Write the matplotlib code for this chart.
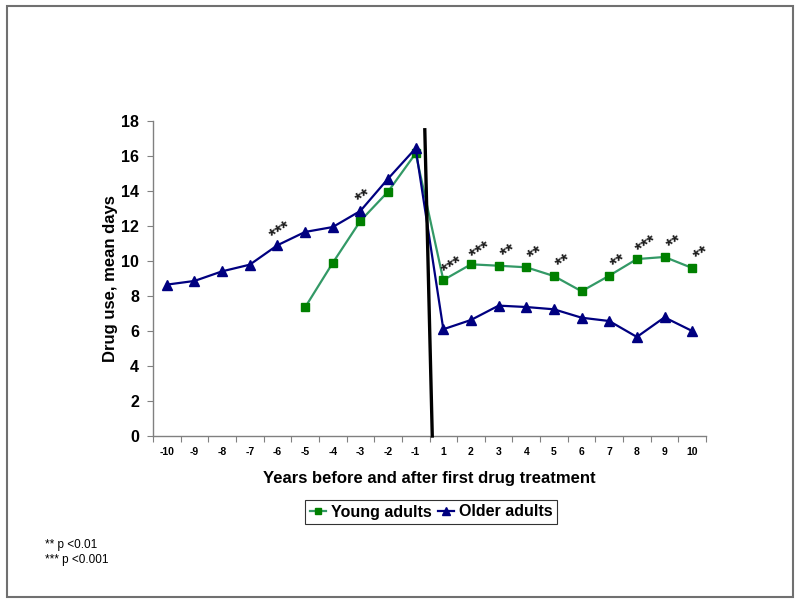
import matplotlib
matplotlib.use("Agg")
import matplotlib.pyplot as plt
from matplotlib.patches import Rectangle
from matplotlib.lines import Line2D

plt.rcParams['font.family'] = ['Liberation Sans', 'DejaVu Sans']

years = ['-10', '-9', '-8', '-7', '-6', '-5', '-4', '-3', '-2', '-1',
         '1', '2', '3', '4', '5', '6', '7', '8', '9', '10']
older = [8.65, 8.86, 9.41, 9.79, 10.9, 11.66, 11.94, 12.86, 14.7, 16.44,
         6.1, 6.63, 7.45, 7.37, 7.24, 6.76, 6.57, 5.66, 6.78, 6.0]
young_years = ['-5', '-4', '-3', '-2', '-1', '1', '2', '3', '4', '5', '6', '7', '8', '9', '10']
young = [7.35, 9.89, 12.29, 13.96, 16.15, 8.91, 9.81, 9.73, 9.64, 9.14, 8.27, 9.16, 10.11, 10.23, 9.6]

older_sig = {'-6': '***', '-3': '**'}
young_sig = {'1': '***', '2': '***', '3': '**', '4': '**', '5': '**', '7': '**',
             '8': '***', '9': '**', '10': '**'}

treat_line_x = [9.33, 9.6]
treat_line_y = [17.5, 0]

fig = plt.figure(figsize=(8, 6.04), dpi=100)
ax = fig.add_axes([153/800, 1-436/604, 553/800, 315/604])

xi = {y: i for i, y in enumerate(years)}
ox = [xi[y] for y in years]
yx = [xi[y] for y in young_years]

green_line = '#339966'
green_mk = '#008000'
navy = '#000080'

ax.plot(yx, young, color=green_line, lw=1.6, marker='s', ms=6,
        mfc=green_mk, mec=green_mk, zorder=3)
ax.plot(ox, older, color=navy, lw=1.6, marker='^', ms=6.5,
        mfc=navy, mec=navy, zorder=4)

ax.plot(treat_line_x, treat_line_y, color='black', lw=2.4, zorder=5, clip_on=False)

star_font = dict(family='Liberation Sans', fontsize=13, fontweight='bold', color='#1a1a1a')
for k, s in older_sig.items():
    i = xi[k]
    ax.annotate(s, (i, older[i]), xytext=(2.5, 9.5), textcoords='offset points',
                ha='center', va='center', rotation=33, rotation_mode='anchor', **star_font)
for k, s in young_sig.items():
    j = young_years.index(k)
    ax.annotate(s, (xi[k], young[j]), xytext=(7, 9.5), textcoords='offset points',
                ha='center', va='center', rotation=33, rotation_mode='anchor', **star_font)

ax.set_xlim(-0.5, 19.5)
ax.set_ylim(0, 18)
ax.set_yticks(range(0, 19, 2))
ax.set_yticklabels([str(v) for v in range(0, 19, 2)], fontweight='bold', fontsize=11.5)
ax.set_xticks([i - 0.5 for i in range(21)])
ax.set_xticklabels([])
ax.set_xticks(range(20), minor=True)
ax.set_xticklabels(years, minor=True, fontweight='bold', fontsize=7.5)
ax.tick_params(axis='x', which='minor', length=0, pad=8)
ax.tick_params(axis='x', which='major', length=4, color='#808080', direction='out')
ax.tick_params(axis='y', length=4, color='#808080', direction='out', pad=6)

for side in ['top', 'right']:
    ax.spines[side].set_visible(False)
for side in ['left', 'bottom']:
    ax.spines[side].set_color('#808080')
    ax.spines[side].set_linewidth(1)

ax.set_ylabel('Drug use, mean days', fontweight='bold', fontsize=12, labelpad=2)
ax.set_xlabel('Years before and after first drug treatment', fontweight='bold',
              fontsize=12, labelpad=10)

handles = [Line2D([0], [0], color=green_line, lw=1.6, marker='s', ms=5, mfc=green_mk, mec=green_mk),
           Line2D([0], [0], color=navy, lw=1.6, marker='^', ms=5.5, mfc=navy, mec=navy)]
leg = fig.legend(handles, ['Young adults', 'Older adults'], loc='center',
                 bbox_to_anchor=(431/800, 1-512/604), ncol=2, frameon=True,
                 fancybox=False, edgecolor='black', handlelength=1.0,
                 handletextpad=0.3, columnspacing=0.4, borderpad=0.3,
                 prop={'weight': 'bold', 'size': 11.5})
leg.get_frame().set_linewidth(0.8)

fig.text(45/800, 1-545/604, '** p <0.01', fontsize=8.5, va='center')
fig.text(45/800, 1-560/604, '*** p <0.001', fontsize=8.5, va='center')

fig.patches.append(Rectangle((7/800, 1-597/604), 786/800, 591/604, transform=fig.transFigure,
                             fill=False, edgecolor='#707070', lw=1.5))

fig.savefig('out.png', dpi=100)
